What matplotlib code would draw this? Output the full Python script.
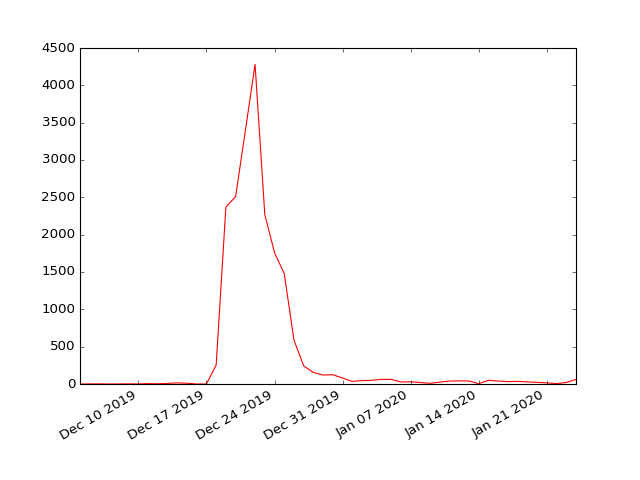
import matplotlib
matplotlib.use('Agg')
import matplotlib.pyplot as plt
import matplotlib.dates as mdates
import numpy as np
import datetime as dt

plt.style.use('classic')

#daily counts, starting 2019-12-04
start = dt.date(2019, 12, 4)
counts = [0, 1, 2, 0, 1, 2, 1, 5, 3, 8,
          15, 10, 0, 0, 254, 2370, 2509, 3390, 4282, 2272,
          1759, 1478, 589, 241, 155, 120, 124, 80, 35, 45,
          50, 62, 62, 27, 30, 20, 9, 25, 40, 42,
          40, 5, 49, 40, 32, 35, 28, 22, 15, 5,
          20, 62]
dates = [start + dt.timedelta(days=i) for i in range(len(counts))]

fig, ax = plt.subplots(figsize=(8, 6), dpi=80)
ax.plot(dates, counts, 'r')
ax.set_xlim(dates[0], dates[-1])
ax.set_ylim(0, 4500)
ax.xaxis.set_major_locator(mdates.WeekdayLocator(byweekday=mdates.TU))
ax.xaxis.set_major_formatter(mdates.DateFormatter('%b %d %Y'))
fig.autofmt_xdate()

fig.savefig('out.png', dpi=80, facecolor='white')
